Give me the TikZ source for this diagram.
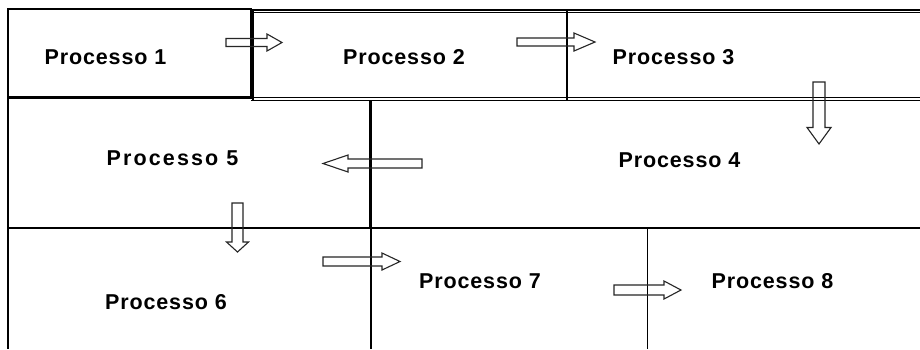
\documentclass[tikz,border=0pt]{standalone}
\usepackage{fontspec}
\setmainfont{Liberation Sans}
\newcommand\HArrow[6]{% tail, base, tip, cy, shaft half, head half
  \draw[barrow] ({#1},{#4-#5}) -- ({#2},{#4-#5}) -- ({#2},{#4-#6}) -- ({#3},{#4})
    -- ({#2},{#4+#6}) -- ({#2},{#4+#5}) -- ({#1},{#4+#5}) -- cycle;}
\newcommand\VArrow[6]{% cx, tail, base, tip, shaft half, head half
  \draw[barrow] ({#1-#5},{#2}) -- ({#1-#5},{#3}) -- ({#1-#6},{#3}) -- ({#1},{#4})
    -- ({#1+#6},{#3}) -- ({#1+#5},{#3}) -- ({#1+#5},{#2}) -- cycle;}
\begin{document}
\begin{tikzpicture}[x=1pt,y=-1pt,
  grid/.style={line width=1.3pt,black},
  thick grid/.style={line width=2.2pt,black},
  barrow/.style={line width=1.1pt,black!85},
  lbl/.style={font=\fontsize{21.5}{24}\selectfont\bfseries\addfontfeature{LetterSpace=4},inner sep=0pt,anchor=center}]
\useasboundingbox (0,0) rectangle (920,349);
\fill[white] (0,0) rectangle (920,349);
% row 1
\draw[thick grid] (8,9) rectangle (251,97.5);
\draw[grid] (251,10) -- (920,10);
\draw[grid] (251,12.5) -- (920,12.5);
\draw[grid] (253,10) -- (253,100);
\draw[grid] (251,97.5) -- (920,97.5);
\draw[grid] (251,100.5) -- (920,100.5);
\draw[thick grid] (567,11) -- (567,100);
% row 2
\draw[grid] (8,97.5) -- (8,349);
\draw[thick grid] (370.5,100) -- (370.5,228);
\draw[grid] (8,228) -- (920,228);
% row 3
\draw[grid] (371,228) -- (371,349);
\draw[grid] (647.5,228) -- (647.5,349);
% labels
\node[lbl] (p1) at (105.5,57.5) {Processo 1};
\node[lbl] (p2) at (404,57.5) {Processo 2};
\node[lbl] (p3) at (673.5,57.5) {Processo 3};
\node[lbl] (p4) at (679.5,160) {Processo 4};
\node[lbl,font=\fontsize{21.5}{24}\selectfont\bfseries\addfontfeature{LetterSpace=10}] (p5) at (172.5,158) {Processo 5};
\node[lbl] (p6) at (166,302.5) {Processo 6};
\node[lbl] (p7) at (480,281.5) {Processo 7};
\node[lbl] (p8) at (772.5,281.5) {Processo 8};
% arrows
\HArrow{226}{267}{282}{42.5}{4}{8.5}
\HArrow{517}{574}{595}{42}{4}{9}
\VArrow{819}{82}{127.5}{144}{6}{12}
\HArrow{422}{348}{323}{163.5}{4.5}{8.5}
\VArrow{237.5}{203}{242}{252}{5.5}{11}
\HArrow{323}{382}{400}{261.5}{4.5}{8.5}
\HArrow{614}{664}{681}{290}{5}{9}
\end{tikzpicture}
\end{document}
